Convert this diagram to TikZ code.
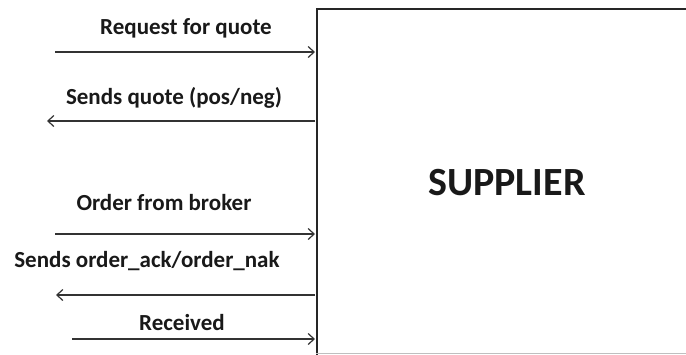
\documentclass[tikz,border=0pt]{standalone}
\usepackage{fontspec}
\setmainfont{Carlito}
\usetikzlibrary{arrows.meta}
\tikzset{
  lbl/.style={font=\bfseries\fontsize{23}{26}\selectfont, text=black!90, inner sep=0pt},
  msg/.style={line width=1.3pt, draw=black!80, -{Straight Barb[length=6pt,width=11pt,line width=1.2pt]}},
  boxst/.style={draw=black!85, line width=2.2pt, rectangle, inner sep=0pt, anchor=north west,
    minimum width=390pt, minimum height=360pt}
}
\begin{document}
\begin{tikzpicture}[x=1pt,y=-1pt]
\useasboundingbox (0,0) rectangle (686,354);
\clip (0,0) rectangle (686,354);
\fill[white] (0,0) rectangle (686,354);
\node[boxst] (supplier) at (316,8) {};
\draw[black!25, line width=1.2pt] (316,353.2) -- (686,353.2);
\node[font=\bfseries\fontsize{40}{46}\selectfont, text=black!90] (title) at (507,183) {SUPPLIER};
% free ends
\coordinate (a1) at (55,52);
\coordinate (a2) at (47,121);
\coordinate (a3) at (55,234);
\coordinate (a4) at (56,295);
\coordinate (a5) at (72,339);
\coordinate (b1) at (315,52);
\coordinate (b2) at (315,121);
\coordinate (b3) at (315,234);
\coordinate (b4) at (315,295);
\coordinate (b5) at (315,339);
\draw[msg] (a1) -- (b1);
\draw[msg] (b2) -- (a2);
\draw[msg] (a3) -- (b3);
\draw[msg] (b4) -- (a4);
\draw[msg] (a5) -- (b5);
\node[lbl] (t1) at (186,28) {Request for quote};
\node[lbl] (t2) at (174,98) {Sends quote (pos/neg)};
\node[lbl] (t3) at (164,203) {Order from broker};
\node[lbl] (t4) at (147,261) {Sends order\_ack/order\_nak};
\node[lbl] (t5) at (182,323) {Received};
\end{tikzpicture}
\end{document}
